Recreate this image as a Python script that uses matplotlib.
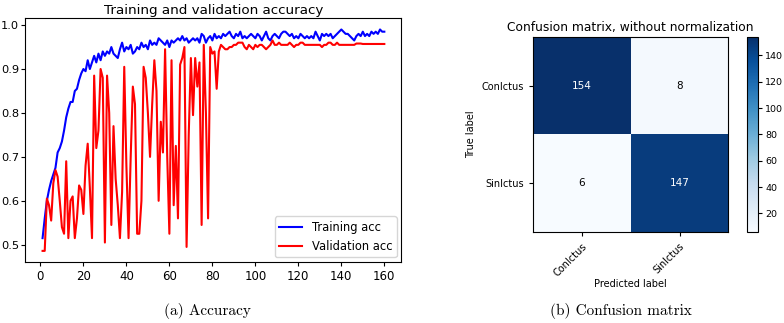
import numpy as np
import matplotlib
matplotlib.use('Agg')
import matplotlib.pyplot as plt

# accuracy per epoch
train_acc = [0.515, 0.56, 0.60, 0.625, 0.645, 0.66, 0.675, 0.71, 0.72, 0.735,
             0.76, 0.79, 0.81, 0.825, 0.825, 0.85, 0.855, 0.875, 0.89, 0.90,
             0.895, 0.92, 0.90, 0.915, 0.93, 0.915, 0.935, 0.92, 0.94, 0.93,
             0.94, 0.935, 0.95, 0.935, 0.93, 0.925, 0.945, 0.96, 0.94, 0.95,
             0.945, 0.955, 0.935, 0.94, 0.95, 0.945, 0.96, 0.95, 0.955, 0.945,
             0.965, 0.955, 0.96, 0.955, 0.97, 0.965, 0.96, 0.955, 0.965, 0.95,
             0.965, 0.96, 0.965, 0.97, 0.965, 0.975, 0.965, 0.97, 0.96, 0.965,
             0.97, 0.965, 0.97, 0.96, 0.98, 0.975, 0.96, 0.97, 0.975, 0.965,
             0.98, 0.97, 0.975, 0.97, 0.98, 0.975, 0.98, 0.985, 0.975, 0.97,
             0.98, 0.975, 0.985, 0.97, 0.975, 0.97, 0.975, 0.98, 0.975, 0.97,
             0.98, 0.975, 0.965, 0.975, 0.985, 0.97, 0.965, 0.975, 0.98, 0.975,
             0.97, 0.98, 0.985, 0.985, 0.98, 0.975, 0.98, 0.97, 0.975, 0.97,
             0.98, 0.975, 0.97, 0.975, 0.97, 0.975, 0.97, 0.985, 0.975, 0.965,
             0.98, 0.975, 0.98, 0.975, 0.98, 0.97, 0.975, 0.98, 0.985, 0.99,
             0.985, 0.98, 0.98, 0.975, 0.97, 0.965, 0.975, 0.98, 0.975, 0.985,
             0.975, 0.98, 0.975, 0.985, 0.98, 0.985, 0.98, 0.99, 0.985, 0.985]

val_acc = [0.486, 0.486, 0.605, 0.59, 0.555, 0.64, 0.67, 0.655, 0.60, 0.54,
           0.525, 0.69, 0.515, 0.60, 0.61, 0.515, 0.56, 0.635, 0.625, 0.57,
           0.68, 0.73, 0.63, 0.515, 0.885, 0.72, 0.76, 0.90, 0.88, 0.505,
           0.885, 0.80, 0.545, 0.77, 0.65, 0.59, 0.515, 0.62, 0.905, 0.68,
           0.515, 0.70, 0.86, 0.82, 0.525, 0.525, 0.60, 0.905, 0.88, 0.80,
           0.70, 0.82, 0.92, 0.85, 0.60, 0.78, 0.71, 0.945, 0.70, 0.525,
           0.92, 0.59, 0.725, 0.56, 0.91, 0.925, 0.95, 0.495, 0.75, 0.925,
           0.795, 0.925, 0.86, 0.915, 0.545, 0.955, 0.80, 0.56, 0.95, 0.935,
           0.94, 0.855, 0.94, 0.955, 0.95, 0.945, 0.945, 0.95, 0.95, 0.955,
           0.955, 0.96, 0.96, 0.96, 0.95, 0.945, 0.955, 0.95, 0.945, 0.955,
           0.95, 0.955, 0.955, 0.95, 0.945, 0.95, 0.955, 0.965, 0.955, 0.955,
           0.96, 0.955, 0.955, 0.955, 0.955, 0.96, 0.955, 0.95, 0.955, 0.955,
           0.96, 0.96, 0.955, 0.955, 0.955, 0.955, 0.955, 0.955, 0.955, 0.955,
           0.95, 0.955, 0.955, 0.96, 0.96, 0.955, 0.955, 0.96, 0.955, 0.955,
           0.955, 0.955, 0.955, 0.955, 0.955, 0.955, 0.958, 0.958, 0.958, 0.957,
           0.957, 0.957, 0.957, 0.957, 0.957, 0.957, 0.957, 0.957, 0.957, 0.957]

classes = ['ConIctus', 'SinIctus']
cm = np.array([[154, 8],
               [6, 147]])

epochs = np.arange(1, len(train_acc) + 1)

fig = plt.figure(figsize=(7.84, 3.23), dpi=100)

# (a) accuracy curves
ax1 = fig.add_axes([0.0325, 0.189, 0.4795, 0.754])
ax1.plot(epochs, train_acc, 'b', label='Training acc')
ax1.plot(epochs, val_acc, 'r', label='Validation acc')
ax1.set_title('Training and validation accuracy', fontsize=9.7, pad=3)
ax1.set_xticks(np.arange(0, 161, 20))
ax1.set_yticks([0.5, 0.6, 0.7, 0.8, 0.9, 1.0])
ax1.tick_params(axis='x', labelsize=8.5, length=3, pad=2.5)
ax1.tick_params(axis='y', labelsize=8.2, length=3, pad=1.5)
ax1.legend(loc='lower right', fontsize=8.3, borderaxespad=0.4)

# (b) confusion matrix
ax2 = fig.add_axes([0.680, 0.282, 0.249, 0.604])
im = ax2.imshow(cm, interpolation='nearest', cmap=plt.cm.Blues)
ax2.set_title('Confusion matrix, without normalization', fontsize=8.8, pad=4)
ax2.set_xticks(np.arange(len(classes)))
ax2.set_yticks(np.arange(len(classes)))
ax2.set_xticklabels(classes, rotation=45, ha='right', rotation_mode='anchor')
ax2.set_yticklabels(classes)
ax2.tick_params(labelsize=7, length=3)
thresh = cm.max() / 2.
for i in range(cm.shape[0]):
    for j in range(cm.shape[1]):
        ax2.text(j, i, format(cm[i, j], 'd'), ha='center', va='center',
                 fontsize=7.5, color='white' if cm[i, j] > thresh else 'black')
ax2.set_ylabel('True label', fontsize=7)
ax2.set_xlabel('Predicted label', fontsize=7, labelpad=1)

cax = fig.add_axes([0.953, 0.282, 0.014, 0.604])
cb = fig.colorbar(im, cax=cax)
cb.set_ticks([20, 40, 60, 80, 100, 120, 140])
cb.ax.tick_params(labelsize=6.8, length=3, pad=2)

# sub-captions
fig.text(0.265, 0.026, '(a) Accuracy', ha='center', fontsize=11, family='cmr10')
fig.text(0.792, 0.026, '(b) Confusion matrix', ha='center', fontsize=11, family='cmr10')

fig.savefig('out.png', dpi=100)
